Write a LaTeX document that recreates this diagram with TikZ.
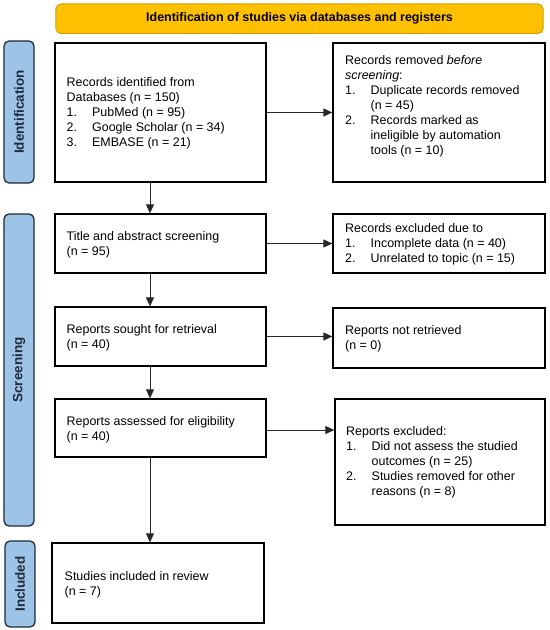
\documentclass[tikz,border=0pt]{standalone}
\usepackage{fontspec}
\setmainfont{Liberation Sans}
\usetikzlibrary{arrows.meta}
\definecolor{gold}{HTML}{FFC000}
\definecolor{goldline}{HTML}{D0A000}
\definecolor{sideblue}{HTML}{9DC3E6}
\definecolor{sideline}{HTML}{1F2B3A}
\newcommand\listnum[1]{\makebox[25.5bp][l]{#1}}
\newcommand\contind{\hspace*{25.5bp}}
\begin{document}
\begin{tikzpicture}[x=1bp,y=-1bp,
 box/.style={draw=black, line width=1.3bp, fill=white, inner sep=0},
 txt/.style={font=\fontsize{12.5}{15}\selectfont, align=left, inner sep=0, anchor=west, text=black},
 side/.style={draw=sideline, line width=1.3bp, fill=sideblue, rounded corners=5bp, inner sep=0,
   rotate=90, font=\bfseries\fontsize{13.5}{15}\selectfont, text=sideline},
 titlebar/.style={draw=goldline, line width=1bp, fill=gold, rounded corners=5bp, inner sep=0,
   font=\bfseries\fontsize{12.5}{15}\selectfont, text=black},
 arr/.style={draw=black!85, line width=0.8bp, -{Triangle[length=9bp,width=8bp]}}]
\useasboundingbox (0,0) rectangle (550,630);
% title and side bars
\node[titlebar, minimum width=487bp, minimum height=29.5bp] (title) at (299.5,18.75) {Identification of studies via databases and registers};
\node[side, minimum width=142bp, minimum height=30bp] (sid) at (19,112) {Identification};
\node[side, minimum width=312bp, minimum height=30bp] (sscr) at (19,370) {Screening};
\node[side, minimum width=86bp, minimum height=30bp] (sinc) at (20,584) {Included};
% boxes
\node[box, minimum width=211bp, minimum height=139bp] (b1) at (160.5,112.5) {};
\node[box, minimum width=212bp, minimum height=139bp] (b2) at (439,112.5) {};
\node[box, minimum width=211bp, minimum height=59bp] (b3) at (160.5,243.5) {};
\node[box, minimum width=212bp, minimum height=59bp] (b4) at (439,243.5) {};
\node[box, minimum width=211bp, minimum height=59bp] (b5) at (160.5,336.5) {};
\node[box, minimum width=212bp, minimum height=60bp] (b6) at (439,338) {};
\node[box, minimum width=211bp, minimum height=58bp] (b7) at (160.5,428) {};
\node[box, minimum width=210bp, minimum height=126bp] (b8) at (440,462) {};
\node[box, minimum width=212bp, minimum height=80bp] (b9) at (158,583) {};
% texts
\node[txt] (t1) at (66.5,113) {Records identified from\\Databases (n = 150)\\\listnum{1.}PubMed (n = 95)\\\listnum{2.}Google Scholar (n = 34)\\\listnum{3.}EMBASE (n = 21)};
\node[txt] (t2) at (345,106) {Records removed \textit{before}\\\textit{screening}:\\\listnum{1.}Duplicate records removed\\\contind(n = 45)\\\listnum{2.}Records marked as\\\contind ineligible by automation\\\contind tools (n = 10)};
\node[txt] (t3) at (66.5,244.5) {Title and abstract screening\\(n = 95)};
\node[txt] (t4) at (345,244) {Records excluded due to\\\listnum{1.}Incomplete data (n = 40)\\\listnum{2.}Unrelated to topic (n = 15)};
\node[txt] (t5) at (66.5,337.5) {Reports sought for retrieval\\(n = 40)};
\node[txt] (t6) at (345,339) {Reports not retrieved\\(n = 0)};
\node[txt] (t7) at (66.5,429.5) {Reports assessed for eligibility\\(n = 40)};
\node[txt] (t8) at (346,462) {Reports excluded:\\\listnum{1.}Did not assess the studied\\\contind outcomes (n = 25)\\\listnum{2.}Studies removed for other\\\contind reasons (n = 8)};
\node[txt] (t9) at (64.5,584.5) {Studies included in review\\(n = 7)};
% connectors
\coordinate (vx) at (150,0);
\draw[arr] (b1.east) -- (b2.west);
\draw[arr] (b3.east) -- (b4.west);
\draw[arr] (b5.east) -- (b5.east -| b6.west);
\draw[arr] ([yshift=-2bp]b7.east) -- ([yshift=-2bp]b7.east -| b8.west);
\draw[arr] (b1.south -| vx) -- (b3.north -| vx);
\draw[arr] (b3.south -| vx) -- (b5.north -| vx);
\draw[arr] (b5.south -| vx) -- (b7.north -| vx);
\draw[arr] (b7.south -| vx) -- (b9.north -| vx);
\end{tikzpicture}
\end{document}
